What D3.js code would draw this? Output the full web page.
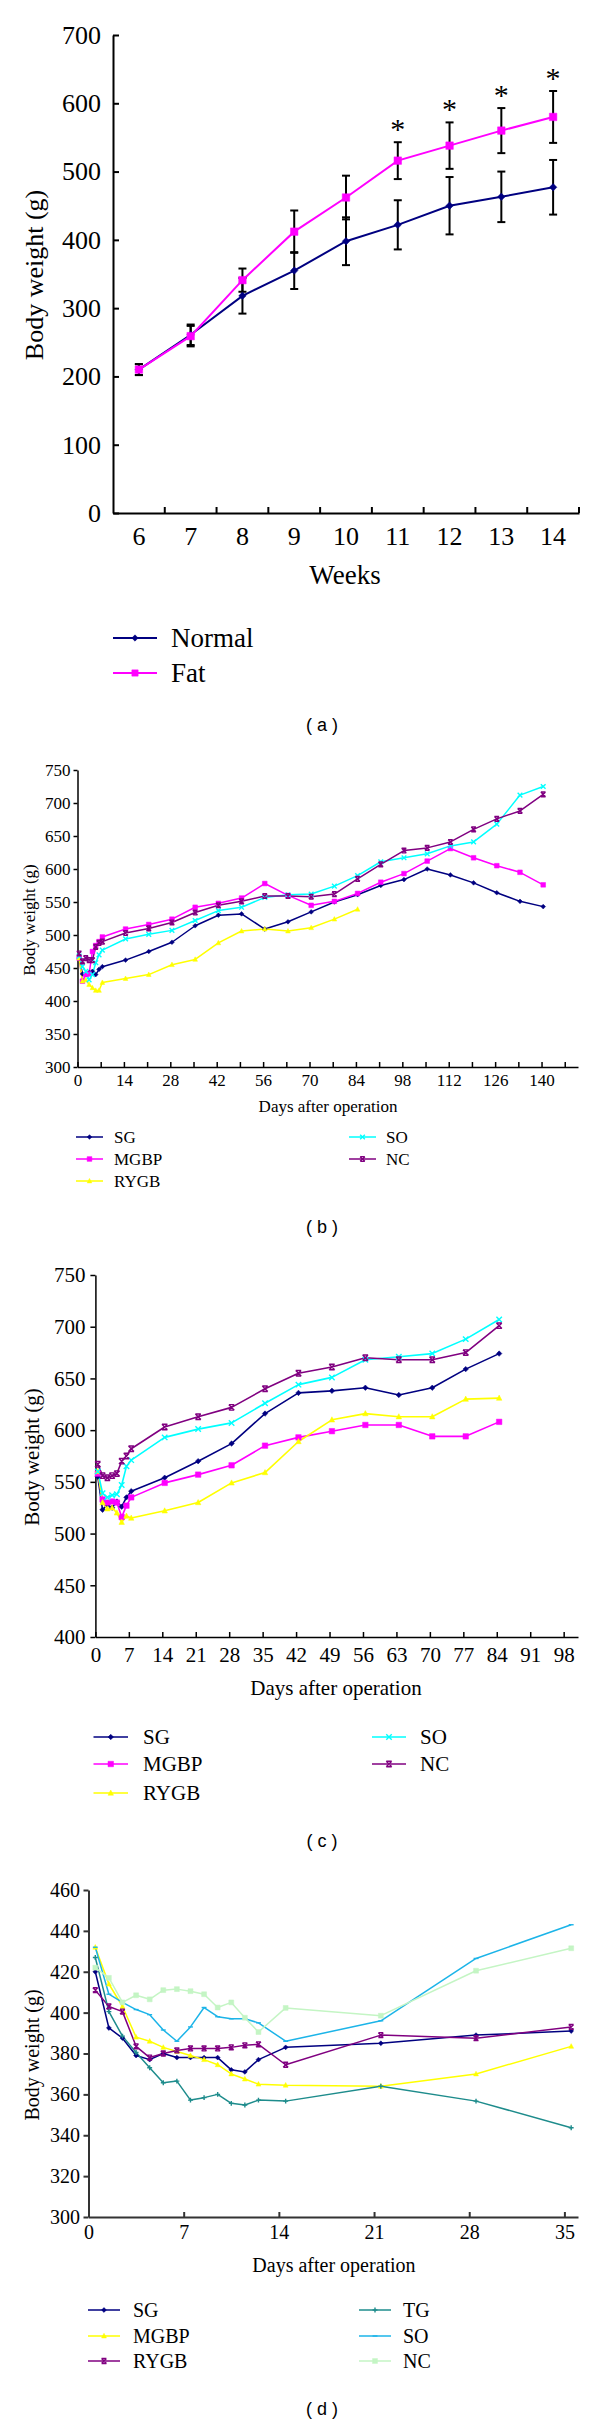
<!DOCTYPE html>
<html><head><meta charset="utf-8">
<script src="https://cdn.jsdelivr.net/npm/d3@7"></script>
<style>body{margin:0;background:#fff}svg{display:block}</style>
</head><body>
<svg id="chart" width="600" height="2425"></svg>
<script>
// ---------------- Panel (a) data ----------------
const weeksA = [6, 7, 8, 9, 10, 11, 12, 13, 14];
const normalA = [210, 261, 318, 355, 398, 422, 450, 463, 477];
const normalErrA = [8, 15, 26, 27, 35, 36, 42, 37, 40];
const fatA = [210, 259, 341, 412, 462, 516, 538, 560, 580];
const fatErrA = [8, 15, 17, 31, 32, 27, 34, 33, 38];
const sigA = [false, false, false, false, false, true, true, true, true];
const yTicksA = [0, 100, 200, 300, 400, 500, 600, 700];

// ---------------- Panel (b) data ----------------
const daysB = [0,1,2,3,4,5,6,7,14,21,28,35,42,49,56,63,70,77,84,91,98,105,112,119,126,133,140];
const sgB   = [465,441,440,443,445,440,448,452,462,475,489,514,530,532,509,520,535,550,561,575,584,600,591,579,564,551,543];
const mgbpB = [465,430,440,441,475,484,490,497,509,516,524,542,548,556,578,560,545,551,563,580,593,612,631,617,605,595,576];
const rygbB = [465,430,432,425,420,416,416,428,434,440,455,463,488,506,509,506,511,524,539];
const soB   = [468,452,445,432,440,458,470,477,494,501,507,522,537,542,557,561,562,574,590,611,617,623,635,641,668,712,725];
const ncB   = [472,460,465,462,462,482,488,490,503,510,519,534,545,551,559,559,558,562,585,607,628,632,641,660,676,688,713];
const yTicksB = [300,350,400,450,500,550,600,650,700,750];

// ---------------- Panel (c) data ----------------
const daysC = [0,1,2,3,4,5,6,7,14,21,28,35,42,49,56,63,70,77,84];
const sgC   = [555,523,528,525,531,526,535,541,554,570,587,616,636,638,641,634,641,659,674];
const mgbpC = [558,533,530,531,530,516,527,535,549,557,566,585,593,599,605,605,594,594,608];
const rygbC = [560,530,524,525,520,511,517,515,522,530,549,559,589,610,616,613,613,630,631];
const soC   = [560,539,535,537,538,547,565,571,593,601,607,626,644,651,668,671,674,688,707];
const ncC   = [567,556,554,556,558,570,575,582,603,613,622,640,655,661,670,668,668,675,701];
const yTicksC = [400,450,500,550,600,650,700,750];

// ---------------- Panel (d) data ----------------
const daysD = [0,1,2,3,4,5,6,7,8,9,10,11,12,14,21,28,35];
const sgD   = [420,392.5,387.5,379,377,380,378,378,378,378,372,371,377,383,385,389,391];
const mgbpD = [432,414,403,388,386,383,381,379,377,374.5,370,367.5,365,364.5,364,370,383.5];
const rygbD = [411,403,400.5,383.5,378,380,381.5,382.5,382.5,382.5,383,384,384.5,374.5,389,387.5,393];
const tgD   = [427,400.5,388.5,380.5,373,365.7,366.5,357.2,358.4,360,355.6,354.8,357.2,356.7,364,356.7,343.7];
const soD   = [432,409,405,401.5,399,391.5,386,393,402.5,398,397,397,395,386,396,426.5,443];
const ncD   = [422,417,405,408.5,406.5,411,411.5,410.5,409,402.5,405,397.5,390.5,402.3,398.5,420.5,431.5];
const yTicksD = [300,320,340,360,380,400,420,440,460];

// Excel date axis: points sit half a day to the right of their tick mark
const pointShift = 0.5;

const serif = "'Liberation Serif','Times New Roman',Times,serif";
const sans = "'Liberation Sans',Arial,sans-serif";
const svg = d3.select('#chart');

// ---------- custom marker symbols ----------
function mk(fn, filled) { return {filled, type: {draw(ctx, size) { fn(ctx, Math.sqrt(size) / 2); }}}; }
const shapes = {
  diamond: mk((c, r) => { c.moveTo(0,-r); c.lineTo(r,0); c.lineTo(0,r); c.lineTo(-r,0); c.closePath(); }, true),
  square: mk((c, r) => { c.moveTo(-r,-r); c.lineTo(r,-r); c.lineTo(r,r); c.lineTo(-r,r); c.closePath(); }, true),
  triangle: mk((c, r) => { c.moveTo(0,-r*1.1); c.lineTo(r,r*0.8); c.lineTo(-r,r*0.8); c.closePath(); }, true),
  x: mk((c, r) => { c.moveTo(-r,-r); c.lineTo(r,r); c.moveTo(r,-r); c.lineTo(-r,r); }, false),
  star: mk((c, r) => { c.moveTo(-r,-r); c.lineTo(r,r); c.moveTo(r,-r); c.lineTo(-r,r);
                        c.moveTo(-r,-r); c.lineTo(r,-r); c.moveTo(-r,r); c.lineTo(r,r); }, false),
  plus: mk((c, r) => { c.moveTo(-r,0); c.lineTo(r,0); c.moveTo(0,-r); c.lineTo(0,r); }, false),
  dash: mk((c, r) => { c.moveTo(-r,0); c.lineTo(r,0); }, false)
};
function drawMarkers(g, pts, shape, size, color) {
  const s = shapes[shape];
  g.selectAll(null).data(pts).join('path')
    .attr('transform', d => `translate(${d[0]},${d[1]})`)
    .attr('d', d3.symbol().type(s.type).size(size))
    .attr('fill', s.filled ? color : 'none')
    .attr('stroke', color)
    .attr('stroke-width', s.filled ? 0.5 : 1.4);
}
function styleAxis(g, fs, color, sw) {
  g.attr('font-family', serif).attr('font-size', fs);
  g.selectAll('path.domain').attr('stroke', color).attr('stroke-width', sw);
  g.selectAll('.tick line').attr('stroke', color).attr('stroke-width', sw);
  g.selectAll('.tick text').attr('fill', '#000');
}
function yTitle(cx, cy, fs) {
  svg.append('text').attr('transform', `translate(${cx},${cy}) rotate(-90)`)
    .attr('text-anchor', 'middle').attr('dominant-baseline', 'central')
    .attr('font-family', serif).attr('font-size', fs).text('Body weight (g)');
}
function xTitle(txt, cx, by, fs) {
  svg.append('text').attr('x', cx).attr('y', by).attr('text-anchor', 'middle')
    .attr('font-family', serif).attr('font-size', fs).text(txt);
}
function panelLabel(txt, cx, cy) {
  svg.append('text').attr('x', cx).attr('y', cy).attr('text-anchor', 'middle')
    .attr('dominant-baseline', 'central').attr('font-family', sans).attr('font-size', 18)
    .attr('xml:space', 'preserve').text(txt);
}
function legendItem(x1, x2, tx, yy, s, fs, lw, msize) {
  const g = svg.append('g');
  g.append('line').attr('x1', x1).attr('x2', x2).attr('y1', yy).attr('y2', yy)
    .attr('stroke', s.color).attr('stroke-width', lw);
  drawMarkers(g, [[(x1 + x2) / 2, yy]], s.shape, msize, s.color);
  g.append('text').attr('x', tx).attr('y', yy).attr('dominant-baseline', 'central')
    .attr('font-family', serif).attr('font-size', fs).text(s.name);
}

// ================= Panel (a) =================
{
  const x = d3.scaleBand().domain(weeksA).range([113, 579]);
  const bw = x.bandwidth();
  const y = d3.scaleLinear().domain([0, 700]).range([513, 35]);
  const g = svg.append('g');
  const ya = g.append('g').attr('transform', 'translate(113,0)')
    .call(d3.axisLeft(y).tickValues(yTicksA).tickSize(-6).tickSizeOuter(0).tickPadding(12));
  styleAxis(ya, 26, '#000', 2);
  const xa = g.append('g').attr('transform', 'translate(0,513)')
    .call(d3.axisBottom(x).tickSize(0).tickSizeOuter(0).tickPadding(14));
  styleAxis(xa, 26, '#000', 2);
  g.append('g').selectAll('line').data(weeksA).join('line')
    .attr('x1', d => x(d) + bw).attr('x2', d => x(d) + bw)
    .attr('y1', 513).attr('y2', 507).attr('stroke', '#000').attr('stroke-width', 2);

  const seriesA = [
    {name: 'Normal', vals: normalA, err: normalErrA, color: '#000080', shape: 'diamond'},
    {name: 'Fat', vals: fatA, err: fatErrA, color: '#FF00FF', shape: 'square'}
  ];
  const cx = i => x(weeksA[i]) + bw / 2;
  seriesA.forEach(s => {
    g.append('path').attr('fill', 'none').attr('stroke', s.color).attr('stroke-width', 2)
      .attr('d', d3.line().x((v, i) => cx(i)).y(v => y(v))(s.vals));
  });
  seriesA.forEach(s => {
    const eg = g.append('g').attr('stroke', '#000').attr('stroke-width', 2);
    s.vals.forEach((v, i) => {
      eg.append('line').attr('x1', cx(i)).attr('x2', cx(i)).attr('y1', y(v - s.err[i])).attr('y2', y(v + s.err[i]));
      [v - s.err[i], v + s.err[i]].forEach(e => eg.append('line')
        .attr('x1', cx(i) - 4).attr('x2', cx(i) + 4).attr('y1', y(e)).attr('y2', y(e)));
    });
  });
  seriesA.forEach(s => drawMarkers(g, s.vals.map((v, i) => [cx(i), y(v)]), s.shape, 56, s.color));
  // significance stars
  g.selectAll(null).data(weeksA.map((w, i) => i).filter(i => sigA[i])).join('text')
    .attr('x', i => cx(i)).attr('y', i => y(fatA[i] + fatErrA[i]) - 3)
    .attr('text-anchor', 'middle').attr('font-family', serif).attr('font-size', 30).text('*');

  yTitle(34, 275, 26);
  xTitle('Weeks', 345, 584, 27);
  seriesA.forEach((s, i) => legendItem(113, 157, 171, [638, 673][i], s, 27, 2, 40));
  panelLabel('( a )', 322, 725);
}

// ================= Generic panel for (b)-(d) =================
function drawPanel(p) {
  const x = d3.scaleLinear().domain(p.xDomain).range(p.xRange);
  const y = d3.scaleLinear().domain(p.yDomain).range(p.yRange);
  const g = svg.append('g');
  const ya = g.append('g').attr('transform', `translate(${p.xRange[0]},0)`)
    .call(d3.axisLeft(y).tickValues(p.yTicks).tickSize(p.yTickSize).tickSizeOuter(0).tickPadding(p.yPad));
  styleAxis(ya, p.fs, p.axisColor, p.axisW);
  const xa = g.append('g').attr('transform', `translate(0,${p.yRange[0]})`)
    .call(d3.axisBottom(x).tickValues(p.xTicks).tickSize(-5).tickSizeOuter(0).tickPadding(p.xPad)
      .tickFormat(d => p.xLabelEvery && d % p.xLabelEvery !== 0 ? '' : d));
  styleAxis(xa, p.fs, p.axisColor, p.axisW);

  p.series.forEach(s => {
    const pts = s.vals.map((v, i) => [x(s.days[i] + pointShift), y(v)]);
    g.append('path').attr('fill', 'none').attr('stroke', s.color).attr('stroke-width', p.lw)
      .attr('stroke-linejoin', 'round').attr('d', d3.line()(pts));
    s.pts = pts;
  });
  p.series.forEach(s => drawMarkers(g, s.pts, s.shape, p.msize, s.color));

  yTitle(p.yTitle[0], p.yTitle[1], p.titleFs);
  xTitle('Days after operation', p.xTitle[0], p.xTitle[1], p.titleFs);
  p.series.forEach((s, i) => {
    const col = i < p.legendSplit ? 0 : 1;
    const row = col === 0 ? i : i - p.legendSplit;
    const L = p.legend;
    legendItem(L.cols[col][0], L.cols[col][1], L.cols[col][2], L.rows[row], s, p.legendFs, p.lw, p.msize);
  });
  panelLabel(p.label, 322, p.labelY);
}

// (b)
drawPanel({
  xDomain: [0, 151], xRange: [77.5, 578], yDomain: [300, 750], yRange: [1067, 770],
  xTicks: d3.range(0, 148, 7), xLabelEvery: 14, yTicks: yTicksB,
  yTickSize: 4, yPad: 3, xPad: 7, fs: 17, axisColor: '#000', axisW: 1.5, lw: 1.5, msize: 22,
  series: [
    {name: 'SG', days: daysB, vals: sgB, color: '#000080', shape: 'diamond'},
    {name: 'MGBP', days: daysB, vals: mgbpB, color: '#FF00FF', shape: 'square'},
    {name: 'RYGB', days: daysB, vals: rygbB, color: '#FFFF00', shape: 'triangle'},
    {name: 'SO', days: daysB, vals: soB, color: '#00FFFF', shape: 'x'},
    {name: 'NC', days: daysB, vals: ncB, color: '#800080', shape: 'star'}
  ],
  legendSplit: 3, legend: {cols: [[76, 103, 114], [349, 376, 386]], rows: [1137, 1159, 1181]},
  legendFs: 17, titleFs: 17, yTitle: [29, 920], xTitle: [328, 1112], label: '( b )', labelY: 1227
});

// (c)
drawPanel({
  xDomain: [0, 101], xRange: [95.4, 578], yDomain: [400, 750], yRange: [1637, 1275],
  xTicks: d3.range(0, 99, 7), xLabelEvery: 0, yTicks: yTicksC,
  yTickSize: 5, yPad: 5, xPad: 10, fs: 21, axisColor: '#000', axisW: 1.5, lw: 1.6, msize: 30,
  series: [
    {name: 'SG', days: daysC, vals: sgC, color: '#000080', shape: 'diamond'},
    {name: 'MGBP', days: daysC, vals: mgbpC, color: '#FF00FF', shape: 'square'},
    {name: 'RYGB', days: daysC, vals: rygbC, color: '#FFFF00', shape: 'triangle'},
    {name: 'SO', days: daysC, vals: soC, color: '#00FFFF', shape: 'x'},
    {name: 'NC', days: daysC, vals: ncC, color: '#800080', shape: 'star'}
  ],
  legendSplit: 3, legend: {cols: [[93.5, 128, 143], [372, 406, 420]], rows: [1737, 1764, 1793]},
  legendFs: 21, titleFs: 21, yTitle: [32, 1457], xTitle: [336, 1695], label: '( c )', labelY: 1841
});

// (d)
drawPanel({
  xDomain: [0, 36], xRange: [88.5, 578], yDomain: [300, 460], yRange: [2217, 1890],
  xTicks: d3.range(0, 36, 7), xLabelEvery: 0, yTicks: yTicksD,
  yTickSize: 5, yPad: 3.5, xPad: 8, fs: 20, axisColor: '#333', axisW: 2, lw: 1.5, msize: 24,
  series: [
    {name: 'SG', days: daysD, vals: sgD, color: '#000080', shape: 'diamond'},
    {name: 'MGBP', days: daysD, vals: mgbpD, color: '#FFFF00', shape: 'triangle'},
    {name: 'RYGB', days: daysD, vals: rygbD, color: '#800080', shape: 'star'},
    {name: 'TG', days: daysD, vals: tgD, color: '#1E8C8C', shape: 'plus'},
    {name: 'SO', days: daysD, vals: soD, color: '#1CB4E8', shape: 'dash'},
    {name: 'NC', days: daysD, vals: ncD, color: '#C4F5C4', shape: 'square'}
  ],
  legendSplit: 3, legend: {cols: [[88, 120, 133], [359, 391, 403]], rows: [2310, 2336, 2361]},
  legendFs: 20, titleFs: 20, yTitle: [32, 2055], xTitle: [334, 2272], label: '( d )', labelY: 2409
});
</script>
</body></html>
